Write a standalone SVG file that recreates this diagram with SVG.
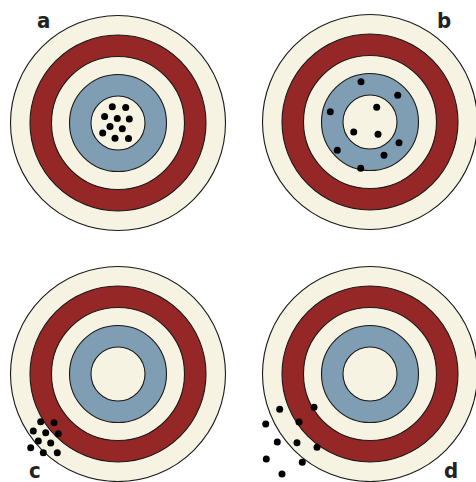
<svg xmlns="http://www.w3.org/2000/svg" xmlns:xlink="http://www.w3.org/1999/xlink" width="476" height="482" viewBox="0 0 476 482">
<style>
.ring{stroke:#1a1a1a;stroke-width:1.1}
.cream{fill:#f6f3e2}
.red{fill:#962727}
.blue{fill:#7f9db3}
.dot circle{fill:#000;r:3.5px}
.lbl{font-family:"DejaVu Sans Condensed","Liberation Sans",sans-serif;font-weight:bold;font-size:22px;fill:#222}
</style>
<defs>
<g id="target">
<circle class="ring cream" r="107.5"/>
<circle class="ring red" r="88"/>
<circle class="ring cream" r="66.5"/>
<circle class="ring blue" r="48.5"/>
<circle class="ring cream" r="27"/>
</g>
</defs>
<rect width="476" height="482" fill="#fff"/>
<g id="target-a">
<use xlink:href="#target" x="118" y="123"/>
<text class="lbl" x="37" y="28">a</text>
<g class="dot">
<circle cx="112.3" cy="106.8" r="3.5"/><circle cx="125.7" cy="107.5" r="3.5"/><circle cx="104.6" cy="116.4" r="3.5"/><circle cx="117.3" cy="118.5" r="3.5"/><circle cx="129.3" cy="119" r="3.5"/><circle cx="110" cy="126.4" r="3.5"/><circle cx="122.3" cy="128.8" r="3.5"/><circle cx="102.7" cy="133" r="3.5"/><circle cx="115" cy="138.2" r="3.5"/><circle cx="128.5" cy="138.4" r="3.5"/>
</g>
</g>
<g id="target-b">
<use xlink:href="#target" x="370" y="122"/>
<text class="lbl" x="437" y="28">b</text>
<g class="dot">
<circle cx="361" cy="81.7" r="3.5"/><circle cx="397.7" cy="95.3" r="3.5"/><circle cx="330.3" cy="111.7" r="3.5"/><circle cx="376.7" cy="107.3" r="3.5"/><circle cx="353.7" cy="132" r="3.5"/><circle cx="378" cy="134.3" r="3.5"/><circle cx="399" cy="142.7" r="3.5"/><circle cx="337.3" cy="150.3" r="3.5"/><circle cx="384" cy="155.3" r="3.5"/><circle cx="360.7" cy="168.3" r="3.5"/>
</g>
</g>
<g id="target-c">
<use xlink:href="#target" x="118" y="374"/>
<text class="lbl" x="29" y="478">c</text>
<g class="dot">
<circle cx="40.7" cy="421.7" r="3.5"/><circle cx="54" cy="422.7" r="3.5"/><circle cx="33.3" cy="431" r="3.5"/><circle cx="45.7" cy="432.7" r="3.5"/><circle cx="58.3" cy="433.7" r="3.5"/><circle cx="38.3" cy="441" r="3.5"/><circle cx="50.7" cy="443" r="3.5"/><circle cx="30.7" cy="447.7" r="3.5"/><circle cx="43.3" cy="452.7" r="3.5"/><circle cx="57.3" cy="452.7" r="3.5"/>
</g>
</g>
<g id="target-d">
<use xlink:href="#target" x="370" y="374"/>
<text class="lbl" x="444" y="478">d</text>
<g class="dot">
<circle cx="279.7" cy="409.3" r="3.5"/><circle cx="314" cy="407.3" r="3.5"/><circle cx="265.7" cy="424" r="3.5"/><circle cx="299" cy="422" r="3.5"/><circle cx="277.3" cy="442" r="3.5"/><circle cx="297" cy="442.7" r="3.5"/><circle cx="317" cy="447.3" r="3.5"/><circle cx="266.3" cy="459" r="3.5"/><circle cx="302.3" cy="462.3" r="3.5"/><circle cx="282" cy="474" r="3.5"/>
</g>
</g>
<g id="connectors"/>
</svg>
